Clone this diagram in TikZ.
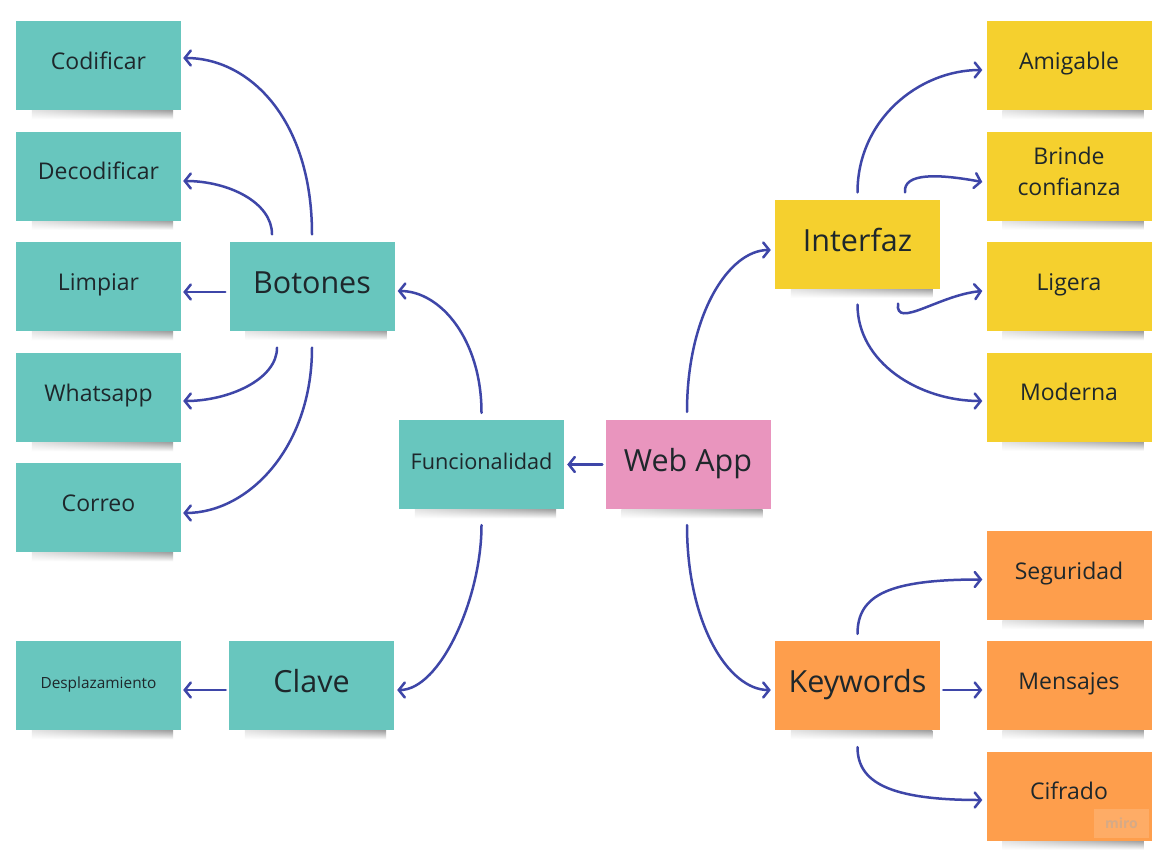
\documentclass[tikz,border=0pt]{standalone}
\usepackage{fontspec}
\setmainfont{Open Sans}
\usetikzlibrary{arrows.meta,calc,fadings}
\pgfdeclarelayer{background}
\pgfsetlayers{background,main}
\definecolor{notecyan}{HTML}{68C6BE}
\definecolor{noteyellow}{HTML}{F5D02E}
\definecolor{noteorange}{HTML}{FE9E4C}
\definecolor{notepink}{HTML}{E995BE}
\definecolor{linkblue}{HTML}{3E46A8}
\definecolor{inktext}{HTML}{1E272B}
\definecolor{mirotext}{RGB}{214,170,134}
\tikzfading[name=shadowdown, top color=transparent!0, bottom color=transparent!100]
\tikzset{
  notebox/.style={minimum width=165pt, minimum height=89pt, inner sep=0pt},
  notetext/.style={inner sep=0pt, text=inktext, align=center, yshift=2pt,
    font=\fontsize{23}{27.6}\selectfont},
  bigtext/.style={font=\fontsize{30.5}{36.6}\selectfont, yshift=-2pt},
  conn/.style={draw=linkblue, line width=2.5pt, line cap=round,
    -{Straight Barb[length=6pt,width=15pt,line cap=round]}},
}
% #1 name, #2 position, #3 fill colour, #4 text options, #5 text
\newcommand\notecard[5]{%
  \node[notebox, fill=#3] (#1) at (#2) {};
  \node[notetext,#4] (#1txt) at (#1.center) {#5};
  \begin{pgfonlayer}{background}
    \shade[left color=black!10, middle color=black!45, right color=black!38,
      path fading=shadowdown]
      ($(#1.south west)+(16,0)$) rectangle ($(#1.south east)+(-8,9)$);
  \end{pgfonlayer}}
\begin{document}
\begin{tikzpicture}[x=1pt,y=-1pt]
\useasboundingbox (0,0) rectangle (1166,856);
\begin{pgfonlayer}{background}
\fill[white] (0,0) rectangle (1166,856);
\end{pgfonlayer}
% left column
\notecard{cod}{98.5,65.5}{notecyan}{}{\strut Codificar}
\notecard{decod}{98.5,176}{notecyan}{}{\strut Decodificar}
\notecard{limp}{98.5,286.5}{notecyan}{}{\strut Limpiar}
\notecard{whats}{98.5,397.5}{notecyan}{}{\strut Whatsapp}
\notecard{correo}{98.5,507.5}{notecyan}{}{\strut Correo}
\notecard{desp}{98.5,685.5}{notecyan}{font=\fontsize{15.4}{18.5}\selectfont, yshift=-1pt}{\strut Desplazamiento}
% middle
\notecard{botones}{312,286}{notecyan}{bigtext}{\strut Botones}
\notecard{clave}{311.5,685.5}{notecyan}{bigtext}{\strut Clave}
\notecard{func}{481.5,464.5}{notecyan}{font=\fontsize{21.7}{26}\selectfont, yshift=-2pt}{\strut Funcionalidad}
\notecard{webapp}{688,464.5}{notepink}{bigtext}{\strut Web App}
\notecard{interfaz}{857.5,244}{noteyellow}{bigtext}{\strut Interfaz}
\notecard{keywords}{857.5,685.5}{noteorange}{bigtext}{\strut Keywords}
% right column
\notecard{amig}{1069,65.5}{noteyellow}{}{\strut Amigable}
\notecard{brinde}{1069,176}{noteyellow}{font=\fontsize{23}{31}\selectfont, yshift=3pt}{Brinde\\confianza}
\notecard{ligera}{1069,286.5}{noteyellow}{}{\strut Ligera}
\notecard{moderna}{1069,397}{noteyellow}{}{\strut Moderna}
\notecard{segur}{1069,575.5}{noteorange}{}{\strut Seguridad}
\notecard{mensajes}{1069,685.5}{noteorange}{}{\strut Mensajes}
\notecard{cifrado}{1069,796}{noteorange}{}{\strut Cifrado}
% miro watermark
\node[fill=white, fill opacity=0.15, text opacity=1, text=mirotext,
  minimum width=55pt, minimum height=29pt, inner sep=0pt,
  font=\fontsize{14}{16}\selectfont\bfseries] (miro) at (1121.5,823) {miro};
% connectors
\draw[conn] ($(webapp.west)+(-3,0)$) -- ($(func.east)+(3,0)$);
\draw[conn] ($(func.north)+(0,-7)$) .. controls +(0,-73) and +(43,0) .. ($(botones.east)+(3,5)$);
\draw[conn] ($(func.south)+(0,16)$) .. controls +(0,73) and +(43,0) .. ($(clave.east)+(3,4.5)$);
\draw[conn] ($(webapp.north)+(-1,-8)$) .. controls +(0,-97) and +(-42,0) .. ($(interfaz.west)+(-4,6)$);
\draw[conn] ($(webapp.south)+(-1,16)$) .. controls +(0,99) and +(-42,0) .. ($(keywords.west)+(-4,4.5)$);
% Botones children
\draw[conn] ($(botones.north)+(0,-7)$) .. controls +(0,-114) and +(67,0) .. ($(cod.east)+(2,-7.5)$);
\draw[conn] ($(botones.north)+(-40,-7)$) .. controls +(0,-32) and +(45,0) .. ($(decod.east)+(2,5)$);
\draw[conn] ($(botones.west)+(-4,6)$) -- ($(limp.east)+(2,5.5)$);
\draw[conn] ($(botones.south)+(-35,17)$) .. controls +(0,32) and +(45,0) .. ($(whats.east)+(2,3.5)$);
\draw[conn] ($(botones.south)+(0,17)$) .. controls +(0,100) and +(65,0) .. ($(correo.east)+(2,5.5)$);
\draw[conn] ($(clave.west)+(-3,4.5)$) -- ($(desp.east)+(2,4.5)$);
% Interfaz children
\draw[conn] ($(interfaz.north)+(0,-7)$) .. controls +(0,-73) and +(-63,0) .. ($(amig.west)+(-4,4.5)$);
\draw[conn] ($(interfaz.north)+(47.5,-7)$) .. controls +(-2,-20) and +(-43,-8) .. ($(brinde.west)+(-4,6)$);
\draw[conn] ($(interfaz.south)+(40.5,15)$) .. controls +(-3,26) and +(-43,4) .. ($(ligera.west)+(-4,4.5)$);
\draw[conn] ($(interfaz.south)+(0,16)$) .. controls +(0,58) and +(-63,0) .. ($(moderna.west)+(-4,4)$);
% Keywords children
\draw[conn] ($(keywords.north)+(0,-7)$) .. controls +(0,-39) and +(-93,0) .. ($(segur.west)+(-4,4)$);
\draw[conn] ($(keywords.east)+(3,4.5)$) -- ($(mensajes.west)+(-4,4.5)$);
\draw[conn] ($(keywords.south)+(0,17)$) .. controls +(0,35) and +(-93,0) .. ($(cifrado.west)+(-4,4)$);
\end{tikzpicture}
\end{document}
